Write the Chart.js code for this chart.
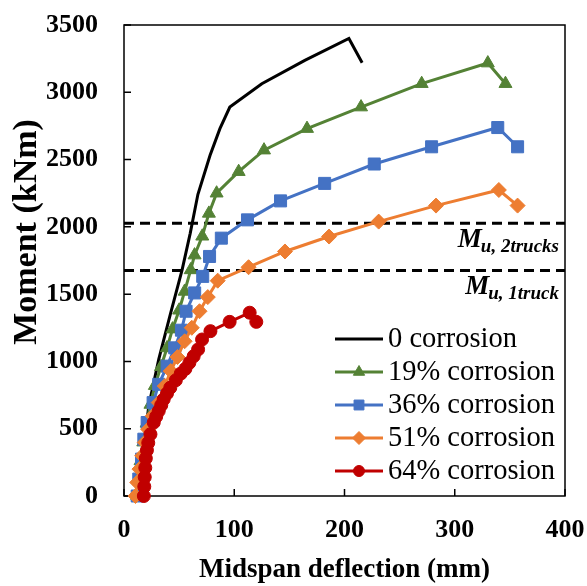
<!DOCTYPE html>
<html>
<head>
<meta charset="utf-8">
<script src="https://cdn.jsdelivr.net/npm/chart.js@4.4.1/dist/chart.umd.min.js"></script>
<style>
  html, body { margin: 0; padding: 0; background: #fff; }
  #wrap { width: 587px; height: 586px; }
</style>
</head>
<body>
<div id="wrap"><canvas id="momentChart" width="587" height="586"></canvas></div>
<script>
// ====== DATA ======
const seriesNames = ["0 corrosion", "19% corrosion", "36% corrosion", "51% corrosion", "64% corrosion"];

const corr0X = [12, 17, 22.5, 31.5, 42, 52.7, 60, 67, 78, 87, 96, 125, 164, 204, 216];
const corr0Y = [0, 300, 670, 1015, 1350, 1680, 1950, 2240, 2530, 2730, 2890, 3064, 3237, 3400, 3220];

const corr19X = [12, 13, 15, 17.5, 20.5, 24, 28, 33.5, 39, 44, 50, 55, 60.5, 64, 71, 77, 84, 104, 127, 166, 215, 270, 330, 346];
const corr19Y = [0, 130, 260, 400, 540, 680, 820, 960, 1100, 1240, 1380, 1520, 1680, 1790, 1930, 2100, 2250, 2410, 2570, 2730, 2890, 3064, 3217, 3064];

const corr36X = [12, 13.4, 15.9, 18, 21, 26.4, 31.5, 39.1, 46, 52.1, 56.3, 64.1, 71.4, 77.6, 88.3, 112, 142, 182, 227, 279, 339, 357];
const corr36Y = [0, 126, 274, 422, 546, 694, 830, 965, 1101, 1232, 1373, 1509, 1632, 1780, 1916, 2052, 2193, 2323, 2467, 2595, 2738, 2595];

const corr51X = [10.4, 12, 14, 16.5, 18.8, 21.9, 26.1, 31.5, 37, 42.4, 48.5, 55, 61.5, 68.5, 76, 85, 113, 146, 186, 231, 283, 340, 357];
const corr51Y = [0, 101, 200, 299, 398, 496, 595, 694, 817, 928, 1033, 1150, 1250, 1373, 1478, 1600, 1700, 1817, 1928, 2039, 2158, 2274, 2158];

const corr64X = [18, 18.4, 18.8, 19.3, 19.8, 20.8, 22, 24, 27, 29.2, 31.5, 33.8, 36, 39, 42, 47, 51.5, 55.7, 59.3, 63.2, 67.2, 70.8, 78.4, 95.8, 114, 120];
const corr64Y = [0, 70, 140, 210, 280, 340, 395, 459, 546, 590, 632, 675, 719, 762, 805, 860, 910, 945, 990, 1039, 1089, 1163, 1225, 1294, 1362, 1294];

// ultimate moment demand lines
const muLevels = [2027, 1676];
const muNames = ["2trucks", "1truck"];

const xTicks = [0, 100, 200, 300, 400];
const yTicks = [0, 500, 1000, 1500, 2000, 2500, 3000, 3500];

// ====== HELPERS ======
const FONT = "'Liberation Serif', 'Times New Roman', serif";
const toPoints = (xs, ys) => xs.map((x, i) => ({ x: x, y: ys[i] }));

function series(label, xs, ys, color, style, radius, legendRadius, order) {
  return {
    label: label,
    data: toPoints(xs, ys),
    borderColor: color,
    backgroundColor: color,
    borderWidth: 3,
    pointStyle: style,
    pointRadius: radius,
    pointBorderWidth: 1,
    pointBackgroundColor: color,
    pointBorderColor: color,
    legendRadius: legendRadius,
    inLegend: true,
    clip: false,
    order: order
  };
}

const datasets = [
  series(seriesNames[0], corr0X, corr0Y, "#000000", "circle", 0, 0, 4),
  series(seriesNames[1], corr19X, corr19Y, "#548235", "triangle", 7.5, 6.5, 3),
  series(seriesNames[2], corr36X, corr36Y, "#4472C4", "rect", 8.5, 7, 2),
  series(seriesNames[3], corr51X, corr51Y, "#ED7D31", "rectRot", 7.5, 6.5, 1),
  series(seriesNames[4], corr64X, corr64Y, "#C00000", "circle", 6.5, 5.5, 0)
];

muLevels.forEach(lvl => {
  datasets.push({
    label: "Mu",
    data: [{ x: xTicks[0], y: lvl }, { x: xTicks[xTicks.length - 1], y: lvl }],
    borderColor: "#000",
    borderWidth: 3,
    borderDash: [10, 6],
    pointRadius: 0,
    inLegend: false,
    order: 5
  });
});

// ====== PLUGINS ======
const framePlugin = {
  id: "frame",
  beforeDatasetsDraw(chart) {
    const { ctx, chartArea: a, scales } = chart;
    ctx.save();
    ctx.strokeStyle = "#000";
    ctx.lineWidth = 1.5;
    ctx.strokeRect(a.left, a.top, a.right - a.left, a.bottom - a.top);
    ctx.beginPath();
    xTicks.forEach(v => {
      const px = scales.x.getPixelForValue(v);
      ctx.moveTo(px, a.bottom);
      ctx.lineTo(px, a.bottom - 7);
    });
    yTicks.forEach(v => {
      const py = scales.y.getPixelForValue(v);
      ctx.moveTo(a.left, py);
      ctx.lineTo(a.left + 7, py);
    });
    ctx.stroke();
    ctx.restore();
  }
};

const textPlugin = {
  id: "extraText",
  afterDraw(chart) {
    const { ctx, chartArea: a, scales } = chart;
    ctx.save();
    ctx.fillStyle = "#000";

    // y axis title
    ctx.save();
    ctx.translate(27, a.top + 207);
    ctx.rotate(-Math.PI / 2);
    ctx.font = "bold 34px " + FONT;
    ctx.textAlign = "center";
    ctx.textBaseline = "middle";
    ctx.fillText("Moment (kNm)", 0, 0);
    ctx.restore();

    // M_u labels
    ctx.textBaseline = "alphabetic";
    muLevels.forEach((lvl, i) => {
      const y = scales.y.getPixelForValue(lvl) + 24;
      const xEnd = a.right - 6;
      ctx.font = "italic bold 19px " + FONT;
      const sub = "u, " + muNames[i];
      const subW = ctx.measureText(sub).width;
      ctx.textAlign = "left";
      ctx.fillText(sub, xEnd - subW, y + 5);
      ctx.font = "italic bold 27px " + FONT;
      ctx.textAlign = "right";
      ctx.fillText("M", xEnd - subW + 1, y);
    });

    // legend
    const x0 = a.right - 230, x1 = a.right - 182, tx = a.right - 177;
    let y = a.bottom - 157;
    ctx.font = "28.5px " + FONT;
    ctx.textAlign = "left";
    ctx.textBaseline = "middle";
    chart.data.datasets.forEach(ds => {
      if (!ds.inLegend) return;
      ctx.strokeStyle = ds.borderColor;
      ctx.lineWidth = 3;
      ctx.beginPath();
      ctx.moveTo(x0, y);
      ctx.lineTo(x1, y);
      ctx.stroke();
      if (ds.pointRadius > 0) {
        ctx.fillStyle = ds.borderColor;
        ctx.lineWidth = 1;
        Chart.helpers.drawPoint(ctx, { pointStyle: ds.pointStyle, radius: ds.legendRadius, borderWidth: 1, rotation: 0 }, (x0 + x1) / 2, y);
      }
      ctx.fillStyle = "#000";
      ctx.fillText(ds.label, tx, y + 1);
      y += 33;
    });
    ctx.restore();
  }
};

// keep chart area fixed: drop the label overhang padding Chart.js adds
function clearPadding(scale) {
  scale.paddingLeft = 0;
  scale.paddingRight = 0;
  scale.paddingTop = 0;
  scale.paddingBottom = 0;
}

// ====== CHART ======
const tickFont = { family: FONT, size: 26, weight: "bold" };

new Chart(document.getElementById("momentChart").getContext("2d"), {
  type: "line",
  data: { datasets: datasets },
  options: {
    responsive: false,
    animation: false,
    layout: { padding: { left: 0, right: 22, top: 25, bottom: 0 } },
    plugins: {
      legend: { display: false },
      tooltip: { enabled: false }
    },
    elements: { line: { tension: 0 } },
    scales: {
      x: {
        type: "linear",
        min: xTicks[0],
        max: xTicks[xTicks.length - 1],
        ticks: { stepSize: 100, font: tickFont, color: "#000", padding: 19, callback: v => String(v) },
        grid: { display: false, drawTicks: false },
        border: { display: false },
        title: {
          display: true,
          text: "Midspan deflection (mm)",
          font: { family: FONT, size: 27, weight: "bold" },
          color: "#000",
          padding: { top: 0, bottom: 0 }
        },
        afterFit(scale) { scale.height = 90; clearPadding(scale); }
      },
      y: {
        type: "linear",
        min: yTicks[0],
        max: yTicks[yTicks.length - 1],
        ticks: { stepSize: 500, font: tickFont, color: "#000", padding: 26, callback: v => String(v) },
        grid: { display: false, drawTicks: false },
        border: { display: false },
        afterFit(scale) { scale.width = 124; clearPadding(scale); }
      }
    }
  },
  plugins: [framePlugin, textPlugin]
});
</script>
</body>
</html>
